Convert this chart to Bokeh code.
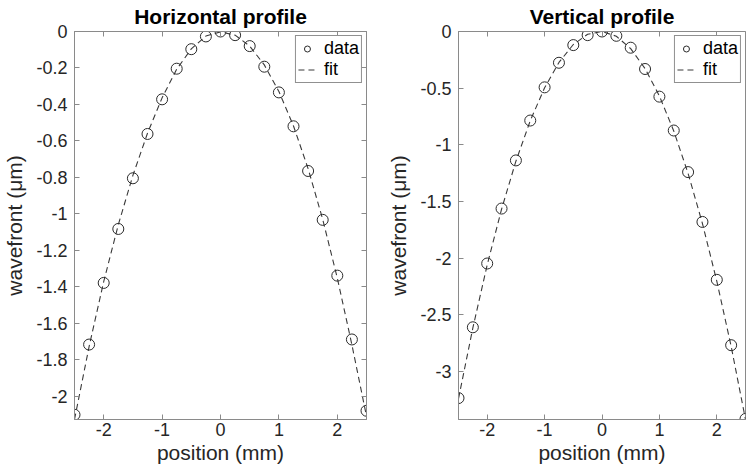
from bokeh.plotting import figure
from bokeh.layouts import row
from bokeh.models import Range1d, LinearAxis, FixedTicker, Legend, LegendItem
from bokeh.embed import file_html
from bokeh.resources import INLINE

position = [-2.5, -2.25, -2.0, -1.75, -1.5, -1.25, -1.0, -0.75, -0.5, -0.25, 0.0,
            0.25, 0.5, 0.75, 1.0, 1.25, 1.5, 1.75, 2.0, 2.25, 2.5]

h_data = [-2.102, -1.717, -1.379, -1.083, -0.805, -0.562, -0.372, -0.204, -0.097, -0.027, 0.0,
          -0.020, -0.080, -0.193, -0.334, -0.520, -0.765, -1.033, -1.339, -1.689, -2.080]
h_fit = [-2.128, -1.728, -1.372, -1.060, -0.789, -0.558, -0.364, -0.207, -0.095, -0.025, -0.002,
         -0.020, -0.080, -0.183, -0.329, -0.518, -0.752, -1.030, -1.352, -1.718, -2.110]

v_data = [-3.236, -2.611, -2.048, -1.563, -1.138, -0.786, -0.493, -0.276, -0.120, -0.032, 0.0,
          -0.038, -0.143, -0.331, -0.575, -0.874, -1.241, -1.681, -2.192, -2.769, -3.420]
v_fit = [-3.241, -2.617, -2.060, -1.569, -1.145, -0.788, -0.497, -0.273, -0.115, -0.024, 0.0,
         -0.042, -0.151, -0.327, -0.569, -0.878, -1.253, -1.695, -2.204, -2.779, -3.425]

x_ticks = [-2, -1, 0, 1, 2]
x_tick_labels = ["-2", "-1", "0", "1", "2"]
h_yticks = [0, -0.2, -0.4, -0.6, -0.8, -1.0, -1.2, -1.4, -1.6, -1.8, -2.0]
h_ytick_labels = ["0", "-0.2", "-0.4", "-0.6", "-0.8", "-1", "-1.2", "-1.4", "-1.6", "-1.8", "-2"]
v_yticks = [0, -0.5, -1.0, -1.5, -2.0, -2.5, -3.0]
v_ytick_labels = ["0", "-0.5", "-1", "-1.5", "-2", "-2.5", "-3"]

FONT = "Liberation Sans"
AX = "#8a8a8a"
TXT = "#262626"


def make_panel(title, data, fit, ymin, yticks, ylabels, bl, br, right_axis=True):
    p = figure(width=373, height=473, x_range=Range1d(-2.5, 2.5), y_range=Range1d(ymin, 0),
               output_backend="svg", toolbar_location=None, title=title,
               min_border_left=bl, min_border_right=br, min_border_top=31, min_border_bottom=54)
    p.title.align = "center"
    p.title.vertical_align = "top"
    p.title.text_font = FONT
    p.title.text_font_style = "bold"
    p.title.text_font_size = "21px"
    p.title.text_color = "black"
    p.title.standoff = 4
    p.grid.visible = False
    p.outline_line_color = AX
    p.outline_line_width = 1
    p.background_fill_color = "white"
    p.border_fill_color = "white"

    p.xaxis.ticker = FixedTicker(ticks=x_ticks)
    p.xaxis.major_label_overrides = dict(zip(x_ticks, x_tick_labels))
    p.yaxis.ticker = FixedTicker(ticks=yticks)
    p.yaxis.major_label_overrides = dict(zip(yticks, ylabels))
    p.xaxis.axis_label = "position (mm)"
    p.yaxis.axis_label = "wavefront (\u03bcm)"
    for ax in (p.xaxis, p.yaxis):
        ax.axis_line_color = AX
        ax.major_tick_line_color = AX
        ax.major_tick_in = 5
        ax.major_tick_out = 0
        ax.minor_tick_line_color = None
        ax.major_label_text_font = FONT
        ax.major_label_text_font_size = "18px"
        ax.major_label_text_color = TXT
        ax.axis_label_text_font = FONT
        ax.axis_label_text_font_size = "21px"
        ax.axis_label_text_font_style = "normal"
        ax.axis_label_text_color = TXT
    p.xaxis.major_label_standoff = 3
    p.xaxis.axis_label_standoff = 2
    p.yaxis.major_label_standoff = 7
    p.yaxis.axis_label_standoff = 7

    top = LinearAxis(ticker=FixedTicker(ticks=x_ticks), major_label_text_font_size="0px",
                     major_label_standoff=0, major_tick_in=5, major_tick_out=0,
                     axis_line_color=AX, major_tick_line_color=AX, minor_tick_line_color=None)
    top.major_label_text_color = None
    p.add_layout(top, "above")
    if right_axis:
        rt = LinearAxis(ticker=FixedTicker(ticks=yticks), major_label_text_font_size="0px",
                        major_label_standoff=0, major_tick_in=5, major_tick_out=0,
                        axis_line_color=AX, major_tick_line_color=AX, minor_tick_line_color=None)
        rt.major_label_text_color = None
        p.add_layout(rt, "right")

    r_fit = p.line(position, fit, line_color="#3a3a3a", line_width=1.1, line_dash="6 4")
    r_data = p.scatter(position, data, marker="circle", size=11, fill_color=None,
                       line_color="#2a2a2a", line_width=1)

    legend = Legend(items=[LegendItem(label="data", renderers=[r_data]),
                           LegendItem(label="fit", renderers=[r_fit])],
                    location="top_right")
    legend.border_line_color = "#222222"
    legend.border_line_width = 1
    legend.background_fill_color = "white"
    legend.background_fill_alpha = 1
    legend.label_text_font = FONT
    legend.label_text_font_size = "18px"
    legend.label_text_color = "black"
    legend.label_height = 15
    legend.glyph_height = 15
    legend.glyph_width = 18
    legend.label_standoff = 8
    legend.padding = 2
    legend.spacing = 0
    legend.margin = 4
    p.add_layout(legend)
    return p


p1 = make_panel("Horizontal profile", h_data, h_fit, -2.128, h_yticks, h_ytick_labels, 74, 7)
p2 = make_panel("Vertical profile", v_data, v_fit, -3.425, v_yticks, v_ytick_labels, 85, 1,
                right_axis=False)

layout = row(p1, p2)
open("out.html", "w").write(file_html(layout, INLINE))
